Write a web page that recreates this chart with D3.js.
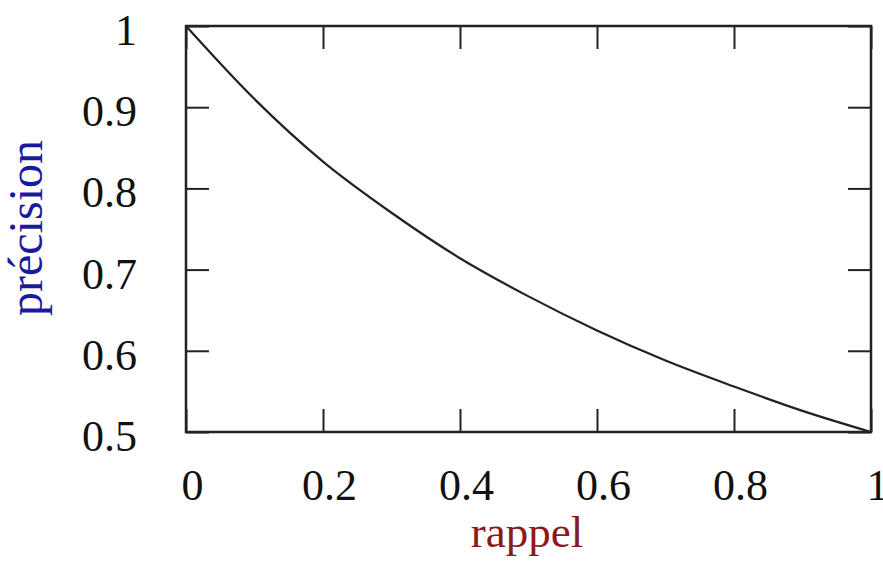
<!DOCTYPE html>
<html>
<head>
<meta charset="utf-8">
<script src="https://cdn.jsdelivr.net/npm/d3@7"></script>
<style>
  body { margin: 0; background: #fff; }
  text { font-family: "Liberation Serif", "DejaVu Serif", serif; }
</style>
</head>
<body>
<div id="chart"></div>
<script>
// values
const rappel = [0, 0.1, 0.2, 0.3, 0.4, 0.5, 0.6, 0.7, 0.8, 0.9, 1]
const precision = [1, 0.91, 0.833, 0.77, 0.714, 0.667, 0.625, 0.588, 0.556, 0.526, 0.5]
const xTicks = [0, 0.2, 0.4, 0.6, 0.8, 1]
const yTicks = [0.5, 0.6, 0.7, 0.8, 0.9, 1]

const fullWidth = 883, fullHeight = 564
const margin = { top: 26, right: 12, bottom: 132, left: 186 },
  width = fullWidth - margin.left - margin.right,
  height = fullHeight - margin.top - margin.bottom

const svg = d3.select('#chart')
  .append('svg')
    .attr('width', fullWidth)
    .attr('height', fullHeight)
  .append('g')
    .attr('transform', `translate(${margin.left}, ${margin.top})`)

const xScale = d3.scaleLinear().domain([0, 1]).range([0, width])
const yScale = d3.scaleLinear().domain([0.5, 1]).range([height, 0])

const fmt = d => d === 0 ? '0' : d === 1 ? '1' : String(d)
const tickLen = 23

// bottom + top ticks (inward)
svg.append('g')
  .attr('transform', `translate(0, ${height})`)
  .call(d3.axisBottom(xScale).tickValues(xTicks).tickFormat(fmt).tickSizeInner(-tickLen).tickSizeOuter(0).tickPadding(tickLen + 14))
  .call(g => g.select('.domain').remove())
  .call(g => g.selectAll('text').attr('font-size', 44).attr('dx', 6).attr('fill', '#111')
    .attr('font-family', '"Liberation Serif", serif'))
svg.append('g')
  .call(d3.axisTop(xScale).tickValues(xTicks).tickFormat('').tickSizeInner(-tickLen).tickSizeOuter(0))
  .call(g => g.select('.domain').remove())

// left + right ticks
svg.append('g')
  .call(d3.axisLeft(yScale).tickValues(yTicks).tickFormat(d3.format('')).tickSizeInner(-tickLen).tickSizeOuter(0).tickPadding(tickLen + 26))
  .call(g => g.select('.domain').remove())
  .call(g => g.selectAll('text').attr('font-size', 44).attr('dy', '0.42em').attr('fill', '#111')
    .attr('font-family', '"Liberation Serif", serif'))
svg.append('g')
  .attr('transform', `translate(${width}, 0)`)
  .call(d3.axisRight(yScale).tickValues(yTicks).tickFormat('').tickSizeInner(-tickLen).tickSizeOuter(0))
  .call(g => g.select('.domain').remove())

svg.selectAll('.tick line').attr('stroke', '#222').attr('stroke-width', 2)

// frame
svg.append('rect')
  .attr('width', width)
  .attr('height', height)
  .attr('fill', 'none')
  .attr('stroke', '#222')
  .attr('stroke-width', 2.5)

const line = d3.line()
  .x((d, i) => xScale(rappel[i]))
  .y(d => yScale(d))
  .curve(d3.curveMonotoneX)

svg.append('path')
  .attr('d', line(precision))
  .attr('fill', 'none')
  .attr('stroke', '#222')
  .attr('stroke-width', 2.2)

// axis titles
svg.append('text')
  .attr('x', 341)
  .attr('y', 521)
  .attr('text-anchor', 'middle')
  .attr('font-size', 45)
  .attr('fill', '#8b1a1a')
  .text('rappel')

svg.append('text')
  .attr('transform', `translate(${-186 + 42}, ${202}) rotate(-90)`)
  .attr('text-anchor', 'middle')
  .attr('font-size', 48)
  .attr('fill', '#1a1aa0')
  .text('précision')
</script>
</body>
</html>
